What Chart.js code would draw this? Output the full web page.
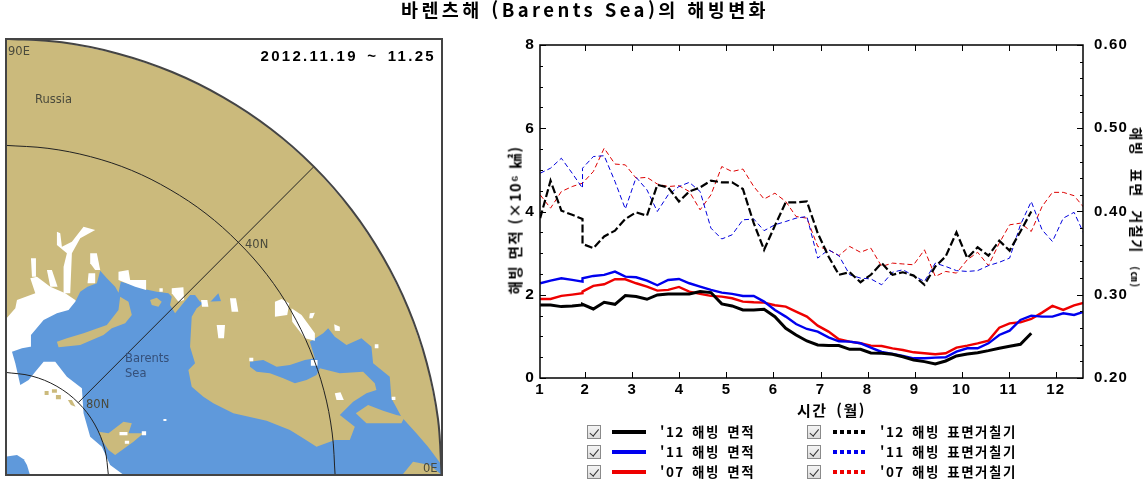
<!DOCTYPE html>
<html lang="ko">
<head>
<meta charset="utf-8">
<title>바렌츠해 해빙변화</title>
<script src="https://cdn.jsdelivr.net/npm/chart.js@4/dist/chart.umd.min.js"></script>
<style>
html, body { margin: 0; padding: 0; background: #fff; }
#page { position: relative; width: 1146px; height: 482px; overflow: hidden; font-family: "Noto Sans CJK KR", "Liberation Sans", sans-serif; color: #000; }
#page canvas { position: absolute; }
.t { position: absolute; white-space: nowrap; }
.bold { font-weight: 700; }
.map { font-family: "DejaVu Sans", sans-serif; font-size: 11.5px; color: #4a4a3c; }
.rot { position: absolute; white-space: nowrap; font-weight: 700; line-height: 1; }
.box { position: absolute; width: 12px; height: 12px; border: 1px solid #8a8a8a; background: linear-gradient(#f4f4f4, #dcdcdc); }
.box::after { content: ""; position: absolute; left: 3.5px; top: 0.5px; width: 3.5px; height: 7.5px; border: solid #333; border-width: 0 1.6px 1.6px 0; transform: rotate(40deg); }
.sw { position: absolute; height: 4px; width: 34px; }
.lg { position: absolute; font-size: 13.5px; font-weight: 700; letter-spacing: 1.5px; word-spacing: 2px; white-space: nowrap; line-height: 16px; }
</style>
</head>
<body>
<div id="page">
  <canvas id="mapChart" style="left:5px;top:38px" width="438" height="438"></canvas>
  <canvas id="iceChart" style="left:490px;top:0" width="656" height="410"></canvas>
  <div class="t bold" style="left:401px;top:-3px;font-size:18.5px;letter-spacing:3.4px;line-height:24px">바렌츠해 (Barents Sea)의 해빙변화</div>
  <div class="t" id="period" style="right:710px;top:47px;font:700 15px 'Liberation Sans';letter-spacing:2.3px;word-spacing:3px">2012.11.19 ~ 11.25</div>
  <div class="t map" style="left:8px;top:44px">90E</div>
  <div class="t map" style="left:35px;top:92px">Russia</div>
  <div class="t map" style="left:245px;top:237px">40N</div>
  <div class="t map" style="left:125px;top:351px;color:#35507a;line-height:15px">Barents<br>Sea</div>
  <div class="t map" style="left:86px;top:397px">80N</div>
  <div class="t map" style="left:423px;top:461px">0E</div>
  <div class="rot" style="left:515px;top:220px;font-size:14.5px;letter-spacing:1.4px;transform:translate(-50%,-50%) rotate(-90deg)">해빙 면적 (×10⁶ ㎢)</div>
  <div class="rot" style="left:1137px;top:208px;font-size:14px;letter-spacing:1.6px;word-spacing:7px;transform:translate(-50%,-50%) rotate(90deg)">해빙 표면 거칠기 <span style="font-size:10px">(㎝)</span></div>
  <div class="t bold" style="left:797px;top:399px;font-size:15px;letter-spacing:1.5px;word-spacing:3px;line-height:22px">시간 (월)</div>
  <div id="legend"></div>
</div>
<script>
// 월 (주 단위, 2월 시작점이 두번 찍힘)
const months = [1.04,1.26,1.49,1.72,1.94,1.94,2.17,2.40,2.63,2.85,3.08,3.31,3.53,3.76,3.99,4.21,4.44,4.67,4.90,5.12,5.35,5.58,5.80,6.03,6.26,6.48,6.71,6.94,7.17,7.39,7.62,7.85,8.07,8.30,8.53,8.75,8.98,9.21,9.44,9.66,9.89,10.12,10.34,10.57,10.80,11.02,11.25,11.48,11.71,11.93,12.16,12.39,12.61];
const monthTicks = [1.036,2,3,4,5,6,7,8,9,10,11,12];

// 해빙 면적 (x10^6 km2)
const area12 = [1.755,1.755,1.715,1.731,1.755,1.771,1.659,1.819,1.771,1.980,1.956,1.891,1.996,2.020,2.020,2.020,2.076,2.052,1.78,1.731,1.635,1.635,1.651,1.474,1.194,1.034,.890,.794,.778,.778,.689,.689,.601,.593,.569,.51,.433,.393,.337,.409,.529,.577,.609,.657,.713,.761,.810,1.074];
const area11 = [2.276,2.340,2.396,2.356,2.316,2.396,2.452,2.476,2.557,2.436,2.420,2.340,2.228,2.356,2.380,2.276,2.196,2.116,2.05,2.020,1.971,1.971,1.835,1.635,1.475,1.298,1.178,1.114,.978,.882,.874,.834,.729,.625,.577,.529,.473,.473,.489,.497,.633,.713,.713,.833,1.034,1.138,1.394,1.499,1.475,1.475,1.555,1.515,1.595];
const area07 = [1.899,1.899,1.972,2.004,2.036,2.076,2.212,2.252,2.372,2.372,2.276,2.196,2.100,2.116,2.188,2.076,2.020,1.972,1.955,1.915,1.835,1.819,1.811,1.747,1.715,1.595,1.475,1.258,1.114,.930,.874,.834,.777,.769,.713,.673,.617,.593,.569,.593,.729,.777,.833,.898,1.210,1.314,1.338,1.418,1.571,1.731,1.635,1.747,1.811];

// 해빙 표면거칠기 (cm)
const rough12 = [.392,.437,.401,.396,.391,.361,.356,.370,.377,.391,.399,.395,.432,.429,.412,.424,.429,.437,.435,.435,.427,.386,.354,.383,.411,.411,.412,.374,.346,.324,.327,.315,.324,.338,.324,.327,.323,.312,.334,.346,.375,.344,.357,.347,.365,.353,.376,.400];
const rough11 = [.446,.452,.464,.446,.428,.452,.466,.467,.436,.403,.441,.426,.400,.420,.430,.435,.424,.380,.367,.372,.390,.391,.377,.384,.388,.392,.394,.344,.354,.347,.324,.320,.319,.312,.327,.330,.323,.316,.338,.334,.329,.328,.329,.335,.339,.344,.384,.412,.378,.364,.392,.399,.372];
const rough07 = [.420,.404,.424,.430,.434,.434,.448,.476,.457,.456,.440,.441,.433,.430,.431,.424,.402,.420,.454,.448,.451,.430,.415,.422,.412,.394,.392,.358,.354,.347,.358,.351,.356,.334,.338,.337,.336,.354,.322,.328,.326,.342,.351,.335,.362,.384,.386,.376,.406,.423,.423,.419,.404];

// 지도 경계선 (그림에서 읽은 좌표)
const arcOuter = [[1326,1428],[1315,1257],[1281,1088],[1226,926],[1150,772],[1055,629],[942,500],[813,387],[670,292],[516,216],[354,161],[185,127],[14,116]];
const arc40N = [[1006,1428],[997,1299],[972,1171],[930,1048],[873,932],[801,824],[715,727],[618,641],[510,569],[394,511],[271,470],[143,445],[14,436]];
const arc80N = [[325,1428],[314,1348],[283,1272],[234,1208],[170,1159],[94,1128],[14,1117]];
const meridian = [[234,1208],[942,500]];
const iceWest = [[14,960],[45,925],[50,900],[105,880],[90,835],[110,830],[150,860],[195,880],[225,900],[300,1000],[400,1428],[14,1428]];
const sea = [[35,1055],[65,1045],[90,1040],[92,1005],[130,960],[170,940],[205,930],[225,905],[240,875],[262,860],[290,850],[300,812],[320,835],[345,860],[355,878],[362,845],[400,855],[435,868],[470,875],[505,880],[515,890],[510,915],[525,940],[545,915],[570,885],[585,885],[600,905],[615,905],[750,1000],[930,1025],[970,1000],[985,985],[1005,1010],[1040,1035],[1085,1015],[1115,1040],[1120,1090],[1170,1130],[1175,1195],[1205,1250],[1250,1300],[1285,1340],[1326,1395],[1326,1428],[375,1428],[330,1395],[305,1340],[270,1310],[250,1240],[245,1165],[200,1130],[165,1085],[130,1085],[105,1115],[85,1140],[60,1155],[45,1090]];
const bayBlob = [[14,1370],[50,1365],[70,1378],[80,1395],[90,1428],[14,1428]];
const innerBay = [[655,880],[670,925],[705,935],[680,965],[665,975],[640,925],[625,912]];
const centralLand = [[615,905],[590,925],[575,950],[570,1040],[585,1090],[565,1110],[575,1160],[610,1190],[640,1210],[700,1240],[800,1262],[870,1290],[910,1315],[950,1340],[1005,1320],[1050,1320],[1065,1280],[1020,1245],[1060,1205],[1100,1180],[1130,1170],[1125,1150],[1090,1115],[1020,1120],[960,1105],[950,1125],[920,1140],[885,1150],[850,1135],[810,1120],[770,1115],[750,1100],[750,1085],[790,1080],[830,1100],[870,1095],[915,1080],[945,1075],[930,1025],[750,900]];
const eastPeninsula = [[1068,1240],[1105,1215],[1150,1232],[1190,1245],[1215,1250],[1205,1270],[1100,1270]];
const cornerLand = [[1205,1428],[1240,1385],[1290,1395],[1326,1425],[1326,1428]];
const longIsland = [[170,1025],[200,1015],[250,1000],[320,975],[355,930],[360,890],[385,905],[395,945],[375,970],[335,985],[310,1005],[240,1035],[175,1042]];
const smallIsland = [[450,900],[470,893],[485,905],[475,920],[455,915]];
const svalbard = [[295,1295],[325,1300],[370,1265],[395,1270],[385,1300],[430,1300],[400,1325],[345,1365],[325,1350],[305,1320]];
const islet1 = [[133,1173],[145,1173],[145,1185],[133,1185]];
const islet2 = [[155,1168],[170,1168],[170,1178],[155,1178]];
const islet3 = [[167,1185],[182,1185],[182,1198],[167,1198]];
const islet4 = [[203,1200],[215,1200],[226,1220],[212,1215]];
const whiteSpots = [
  [[170,695],[180,700],[185,740],[215,725],[250,680],[285,690],[240,715],[215,760],[210,880],[190,880],[190,800],[200,760],[170,735]],
  [[140,810],[155,810],[172,860],[150,860]],
  [[92,775],[107,775],[107,830],[95,830]],
  [[270,760],[290,760],[300,810],[285,810],[270,790]],
  [[265,820],[285,820],[285,850],[262,850]],
  [[355,815],[385,810],[390,840],[438,840],[438,870],[405,860],[355,840]],
  [[478,865],[488,865],[488,875],[478,875]],
  [[515,865],[550,862],[552,900],[535,905],[515,880]],
  [[603,900],[622,900],[625,920],[606,920]],
  [[690,895],[708,895],[715,935],[695,935]],
  [[650,975],[675,975],[672,1015],[655,1015]],
  [[825,905],[845,897],[868,910],[862,945],[825,950]],
  [[875,925],[905,945],[945,1000],[945,1022],[915,1015],[877,965]],
  [[930,940],[945,938],[938,955],[928,955]],
  [[1003,973],[1020,980],[1020,993],[1005,992]],
  [[1125,1033],[1136,1033],[1136,1045],[1125,1045]],
  [[748,1073],[760,1073],[760,1084],[748,1084]],
  [[933,1080],[953,1080],[953,1097],[933,1097]],
  [[1005,1180],[1022,1177],[1032,1200],[1010,1200]],
  [[1176,1190],[1187,1190],[1187,1200],[1176,1200]],
  [[358,1296],[382,1296],[382,1306],[358,1306]],
  [[425,1294],[438,1294],[438,1306],[425,1306]],
  [[374,1322],[387,1322],[387,1331],[374,1331]],
  [[490,1257],[499,1257],[499,1263],[490,1263]]
];

const BEIGE = '#cbba7c', BLUE = '#5f99db', WHITE = '#ffffff';

function pts(list) { return list.map(p => ({ x: p[0], y: p[1] })); }
function poly(list, color) {
  return { type: 'scatter', data: pts(list), showLine: true, fill: 'shape', backgroundColor: color, borderWidth: 0, borderColor: color, pointRadius: 0 };
}
function stroke(list, width, color, tension) {
  return { type: 'scatter', data: pts(list), showLine: true, fill: false, borderWidth: width, borderColor: color, pointRadius: 0, tension: tension };
}

const mapLayers = [
  poly([[14,1428]].concat(arcOuter), BEIGE),
  poly(iceWest, WHITE),
  poly(sea, BLUE),
  poly(bayBlob, BLUE),
  poly(innerBay, BLUE),
  poly(centralLand, BEIGE),
  poly(eastPeninsula, BEIGE),
  poly(cornerLand, BEIGE),
  poly(longIsland, BEIGE),
  poly(smallIsland, BEIGE),
  poly(svalbard, BEIGE),
  poly(islet1, BEIGE), poly(islet2, BEIGE), poly(islet3, BEIGE), poly(islet4, BEIGE)
].concat(whiteSpots.map(s => poly(s, WHITE))).concat([
  stroke(arc80N, 1, '#222', 0.35),
  stroke(arc40N, 1, '#222', 0.35),
  stroke(meridian, 1, '#222', 0),
  stroke(arcOuter, 2, '#444', 0.35)
]);
// 앞쪽 레이어가 먼저 그려지도록 순서 지정
mapLayers.forEach((d, i) => { d.order = mapLayers.length - i; });

const mapFrame = {
  id: 'mapFrame',
  afterDraw(c) {
    const a = c.chartArea, g = c.ctx;
    g.save();
    g.lineWidth = 2;
    g.strokeStyle = '#444';
    g.strokeRect(a.left + 1, a.top + 1, a.width - 2, a.height - 2);
    g.restore();
  }
};

new Chart(document.getElementById('mapChart'), {
  type: 'scatter',
  data: { datasets: mapLayers },
  plugins: [mapFrame],
  options: {
    responsive: false,
    animation: false,
    events: [],
    plugins: { legend: { display: false }, tooltip: { enabled: false } },
    layout: { padding: 0 },
    scales: {
      x: { display: false, min: 14, max: 1330 },
      y: { display: false, min: 114, max: 1428, reverse: true }
    }
  }
});

function series(values, color, width, dash, axis) {
  return {
    data: values.map((v, i) => ({ x: months[i], y: v })),
    borderColor: color, borderWidth: width, borderDash: dash, yAxisID: axis,
    pointRadius: 0, tension: 0, fill: false, borderJoinStyle: 'miter'
  };
}

// 안쪽으로 향하는 눈금과 테두리, 글자 간격
const inwardTicks = {
  id: 'inwardTicks',
  beforeDraw(c) { c.ctx.letterSpacing = '1.2px'; },
  afterDraw(c) {
    const a = c.chartArea, g = c.ctx;
    const line = (x0, y0, x1, y1) => { g.beginPath(); g.moveTo(x0, y0); g.lineTo(x1, y1); g.stroke(); };
    g.save();
    g.strokeStyle = '#000';
    g.lineWidth = 1;
    monthTicks.slice(1).forEach(m => {
      const x = Math.round(c.scales.x.getPixelForValue(m)) + 0.5;
      line(x, a.bottom, x, a.bottom - 6);
      line(x, a.top, x, a.top + 6);
    });
    for (let v = 0; v <= 8; v += 0.5) {
      const y = Math.round(c.scales.y.getPixelForValue(v)) + 0.5;
      line(a.left, y, a.left + (v % 2 === 0 ? 6 : 3), y);
    }
    for (let k = 0; k <= 20; k++) {
      const y = Math.round(c.scales.y2.getPixelForValue(0.2 + k * 0.02)) + 0.5;
      line(a.right, y, a.right - (k % 5 === 0 ? 6 : 3), y);
    }
    g.lineWidth = 1.5;
    g.strokeRect(a.left, a.top, a.width, a.height);
    g.restore();
  }
};

new Chart(document.getElementById('iceChart'), {
  type: 'line',
  data: {
    datasets: [
      series(area12, '#000000', 3, [], 'y'),
      series(area11, '#0000ee', 2.4, [], 'y'),
      series(area07, '#ee0000', 2.4, [], 'y'),
      series(rough12, '#000000', 2.2, [8, 3], 'y2'),
      series(rough11, '#0000dd', 1, [5, 3], 'y2'),
      series(rough07, '#dd0000', 1, [5, 3], 'y2')
    ]
  },
  plugins: [inwardTicks],
  options: {
    responsive: false,
    animation: false,
    events: [],
    layout: { padding: { top: 45, left: 0, right: 0, bottom: 0 } },
    plugins: { legend: { display: false }, tooltip: { enabled: false } },
    scales: {
      x: {
        type: 'linear', min: 1.036, max: 12.58,
        afterBuildTicks(s) { s.ticks = monthTicks.map(v => ({ value: v })); },
        afterFit(s) { s.height = 32; },
        grid: { display: false, drawTicks: false },
        border: { display: false },
        ticks: {
          padding: 3, maxRotation: 0, autoSkip: false, color: '#000',
          font: { family: 'Liberation Sans', size: 15, weight: 'bold' },
          callback: v => String(Math.floor(v))
        }
      },
      y: {
        position: 'left', min: 0, max: 8,
        afterFit(s) { s.width = 50; },
        afterBuildTicks(s) { s.ticks = [0, 2, 4, 6, 8].map(v => ({ value: v })); },
        grid: { display: false, drawTicks: false },
        border: { display: false },
        ticks: { padding: 5, color: '#000', font: { family: 'Liberation Sans', size: 15.5, weight: 'bold' } }
      },
      y2: {
        position: 'right', min: 0.2, max: 0.6,
        afterFit(s) { s.width = 63; },
        afterBuildTicks(s) { s.ticks = [0.2, 0.3, 0.4, 0.5, 0.6].map(v => ({ value: v })); },
        grid: { display: false, drawTicks: false },
        border: { display: false },
        ticks: {
          padding: 11, color: '#000', font: { family: 'Liberation Sans', size: 15, weight: 'bold' },
          callback: v => v.toFixed(2)
        }
      }
    }
  }
});

// 범례
const legendRows = [
  ["'12 해빙 면적", "'12 해빙 표면거칠기", '#000'],
  ["'11 해빙 면적", "'11 해빙 표면거칠기", '#0000ee'],
  ["'07 해빙 면적", "'07 해빙 표면거칠기", '#ee0000']
];
const legendBox = document.getElementById('legend');
legendRows.forEach((r, i) => {
  const y = 431 + i * 20.2;
  legendBox.insertAdjacentHTML('beforeend',
    `<span class="box" style="left:587px;top:${y - 6}px"></span>` +
    `<span class="sw" style="left:612px;top:${y - 1}px;background:${r[2]}"></span>` +
    `<span class="lg" style="left:660px;top:${y - 8}px">${r[0]}</span>` +
    `<span class="box" style="left:807px;top:${y - 6}px"></span>` +
    `<span class="sw" style="left:833px;top:${y - 1}px;background:repeating-linear-gradient(90deg,${r[2]} 0 4px,transparent 4px 7px)"></span>` +
    `<span class="lg" style="left:880px;top:${y - 8}px">${r[1]}</span>`);
});
</script>
</body>
</html>
